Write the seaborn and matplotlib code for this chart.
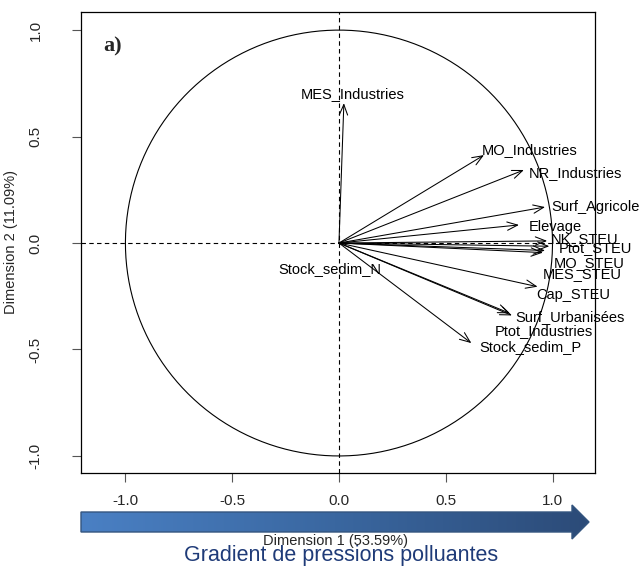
import numpy as np
import pandas as pd
import matplotlib
matplotlib.use("Agg")
import matplotlib.pyplot as plt
from matplotlib.path import Path
from matplotlib.patches import PathPatch
import seaborn as sns

# Variable coordinates on the first two PCA dimensions
variables = ["MES_Industries", "MO_Industries", "NR_Industries", "Surf_Agricole",
             "Elevage", "NK_STEU", "Ptot_STEU", "MO_STEU", "MES_STEU", "Cap_STEU",
             "Surf_Urbanisées", "Ptot_Industries", "Stock_sedim_P", "Stock_sedim_N"]
dim1 = [0.023, 0.679, 0.866, 0.965, 0.843, 0.975, 0.985, 0.965, 0.955, 0.930,
        0.810, 0.800, 0.620, -0.020]
dim2 = [0.657, 0.413, 0.343, 0.169, 0.085, 0.010, -0.015, -0.035, -0.045, -0.205,
        -0.340, -0.330, -0.470, -0.010]

tick_values = [-1.0, -0.5, 0.0, 0.5, 1.0]
tick_labels = ["-1.0", "-0.5", "0.0", "0.5", "1.0"]

xlabel = "Dimension 1 (53.59%)"
ylabel = "Dimension 2 (11.09%)"
panel_tag = "a)"
gradient_caption = "Gradient de pressions polluantes"

coords = pd.DataFrame({"variable": variables, "dim1": dim1, "dim2": dim2})

sns.set_style("ticks")
plt.rcParams["font.family"] = ["Liberation Sans", "DejaVu Sans"]

W, H = 642, 567
fig = plt.figure(figsize=(W / 100, H / 100), dpi=100)
ax = fig.add_axes([81 / W, 1 - 473 / H, (595 - 81) / W, (473 - 12) / H])

# Correlation circle
theta = np.linspace(0, 2 * np.pi, 500)
circle = pd.DataFrame({"x": np.cos(theta), "y": np.sin(theta)})
sns.lineplot(data=circle, x="x", y="y", sort=False, estimator=None,
             color="black", lw=0.8, ax=ax)

ax.axhline(0, color="black", lw=0.8, ls=(0, (4, 3)))
ax.axvline(0, color="black", lw=0.8, ls=(0, (4, 3)))

# Label placement around each arrow tip (offset in pixels, horizontal alignment)
label_style = {
    "MES_Industries": (9, 9, "center"),
    "MO_Industries": (-2, 5, "left"),
    "NR_Industries": (5, -3, "left"),
    "Surf_Agricole": (6, 0, "left"),
    "Elevage": (10, -2, "left"),
    "NK_STEU": (4, 2, "left"),
    "Ptot_STEU": (9, -2, "left"),
    "MO_STEU": (9, -13, "left"),
    "MES_STEU": (0, -21, "left"),
    "Cap_STEU": (-1, -8, "left"),
    "Surf_Urbanisées": (3, -2, "left"),
    "Ptot_Industries": (-15, -18, "left"),
    "Stock_sedim_P": (8, -4, "left"),
    "Stock_sedim_N": (-5, -24, "center"),
}

for _, row in coords.iterrows():
    x, y = row["dim1"], row["dim2"]
    if np.hypot(x, y) > 0.05:
        ax.annotate("", xy=(x, y), xytext=(0, 0),
                    arrowprops=dict(arrowstyle="->,head_length=0.75,head_width=0.3",
                                    lw=0.75, color="black", shrinkA=0, shrinkB=0,
                                    mutation_scale=10))
    dx, dy, ha = label_style[row["variable"]]
    ax.annotate(row["variable"], xy=(x, y), xytext=(dx, dy),
                textcoords="offset pixels", ha=ha, va="center",
                fontsize=10.5, color="black")

ax.set_xlim(-1.208, 1.199)
ax.set_ylim(-1.08, 1.085)
ax.set_xticks(tick_values)
ax.set_xticklabels(tick_labels)
ax.set_yticks(tick_values)
ax.set_yticklabels(tick_labels, rotation=90, va="center")
ax.tick_params(axis="x", length=6.5, width=0.8, color="#555555", pad=8.5, labelsize=11)
ax.tick_params(axis="y", length=6.5, width=0.8, color="#555555", pad=21, labelsize=11)
for s in ax.spines.values():
    s.set_color("black")
    s.set_linewidth(0.9)
ax.set_xlabel("")
ax.set_ylabel(ylabel, fontsize=10.5)
ax.yaxis.set_label_coords((18 - 81) / (595 - 81), 0.5)

fig.text(103 / W, 1 - 46 / H, panel_tag, fontsize=16, fontweight="bold",
         family=["Liberation Serif", "DejaVu Serif"], ha="left", va="center")

# Gradient arrow under the x axis
ov = fig.add_axes([0, 0, 1, 1])
ov.set_xlim(0, W)
ov.set_ylim(H, 0)
ov.axis("off")
yc = 522
verts = [(81, yc - 10), (572, yc - 10), (572, yc - 17), (589, yc),
         (572, yc + 17), (572, yc + 10), (81, yc + 10), (81, yc - 10)]
arrow_path = Path(verts, [Path.MOVETO] + [Path.LINETO] * 6 + [Path.CLOSEPOLY])
patch = PathPatch(arrow_path, facecolor="none", edgecolor="#34557f", lw=1.0)
ov.add_patch(patch)
grad = np.linspace(0, 1, 256).reshape(1, -1)
cmap = matplotlib.colors.LinearSegmentedColormap.from_list(
    "press", ["#4a80c4", "#3a67a0", "#2c4b78"])
img = ov.imshow(grad, extent=(81, 589, yc + 17, yc - 17), cmap=cmap,
                aspect="auto", interpolation="bilinear")
img.set_clip_path(patch)

fig.text(336 / W, 1 - 541 / H, xlabel, fontsize=10.5, ha="center", va="center")
fig.text(341 / W, 1 - 555 / H, gradient_caption, fontsize=15.5, color="#1f3b78",
         ha="center", va="center")

fig.savefig("out.png", dpi=100)
